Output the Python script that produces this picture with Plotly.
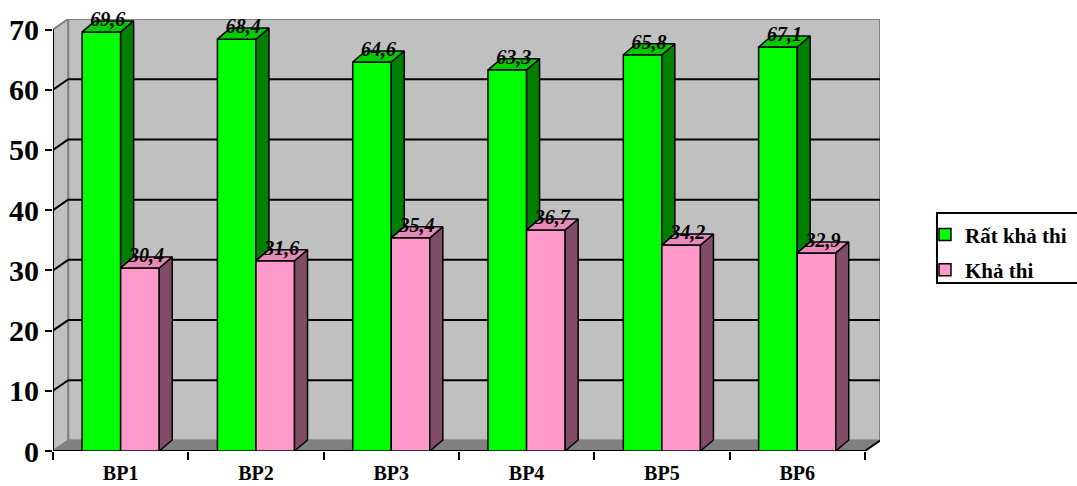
import plotly.graph_objects as go

# ---- data ----
categories = ["BP1", "BP2", "BP3", "BP4", "BP5", "BP6"]
rat_kha_thi = [69.6, 68.4, 64.6, 63.3, 65.8, 67.1]
kha_thi = [30.4, 31.6, 35.4, 36.7, 34.2, 32.9]
y_ticks = [0, 10, 20, 30, 40, 50, 60, 70]

# ---- styling ----
FONT = "Liberation Serif, Times New Roman, serif"
BAR_W = 0.285                     # width of each column (x units)
BAR_DX, BAR_DY = 0.096, 1.83      # depth of the columns (x units, y units)
WALL_DX, WALL_DY = 0.112, 1.744   # depth of the walls / floor
X_MIN, X_MAX = -0.5, len(categories) - 0.5
Y_TOP = y_ticks[-1]

GREEN, GREEN_SIDE, GREEN_TOP = "#00ff00", "#008000", "#00cc00"
PINK, PINK_SIDE, PINK_TOP = "#ff99cc", "#804c66", "#e68ab8"
WALL, FLOOR, EDGE = "#c0c0c0", "#808080", "#808080"

x_pos = list(range(len(categories)))


def fmt(v):
    return f"{v:.1f}".replace(".", ",")


def faces(values, offset, behind=None):
    """Side and top faces of a row of 3-D columns."""
    sx, sy, tx, ty = [], [], [], []
    for i, v in enumerate(values):
        xl = i + offset
        xr = xl + BAR_W
        base = 0 if behind is None else min(behind[i], v)
        sx += [xr, xr + BAR_DX, xr + BAR_DX, xr, xr, None]
        sy += [base, base + BAR_DY, v + BAR_DY, v, base, None]
        tx += [xl, xr, xr + BAR_DX, xl + BAR_DX, xl, None]
        ty += [v, v, v + BAR_DY, v + BAR_DY, v, None]
    return sx, sy, tx, ty


fig = go.Figure()

# front faces
fig.add_trace(go.Bar(
    x=x_pos, y=rat_kha_thi, width=BAR_W, offset=-BAR_W, name="Rất khả thi",
    marker=dict(color=GREEN, line=dict(color="black", width=1.5)),
    legendgroup="a", hoverinfo="skip"))
fig.add_trace(go.Bar(
    x=x_pos, y=kha_thi, width=BAR_W, offset=0, name="Khả thi",
    marker=dict(color=PINK, line=dict(color="black", width=1.5)),
    legendgroup="b", hoverinfo="skip"))

# side / top faces (green side hidden below the pink column)
gsx, gsy, gtx, gty = faces(rat_kha_thi, -BAR_W, behind=kha_thi)
psx, psy, ptx, pty = faces(kha_thi, 0)
for xs, ys, col in [(gsx, gsy, GREEN_SIDE), (gtx, gty, GREEN_TOP),
                    (psx, psy, PINK_SIDE), (ptx, pty, PINK_TOP)]:
    fig.add_trace(go.Scatter(
        x=xs, y=ys, mode="lines", fill="toself", fillcolor=col,
        line=dict(color="black", width=1.5), showlegend=False,
        cliponaxis=False, hoverinfo="skip"))

# value labels on the column tops
for vals, off in [(rat_kha_thi, -BAR_W), (kha_thi, 0)]:
    fig.add_trace(go.Scatter(
        x=[i + off + BAR_W / 2 + BAR_DX / 2 for i in x_pos],
        y=[v + BAR_DY for v in vals],
        text=[fmt(v) for v in vals], mode="text",
        textposition="middle center", cliponaxis=False,
        textfont=dict(family=FONT, size=20, color="black",
                      weight="bold", style="italic"),
        showlegend=False, hoverinfo="skip"))

# ---- walls, floor, gridlines ----
shapes = []


def path(pts):
    return "M " + " L ".join(f"{x},{y}" for x, y in pts) + " Z"


# back wall
shapes.append(dict(type="rect", xref="x", yref="y", layer="below",
                   x0=X_MIN + WALL_DX, x1=X_MAX + WALL_DX,
                   y0=WALL_DY, y1=Y_TOP + WALL_DY,
                   fillcolor=WALL, line=dict(color=EDGE, width=2)))
# left side wall
shapes.append(dict(type="path", xref="x", yref="y", layer="below",
                   path=path([(X_MIN, 0), (X_MIN + WALL_DX, WALL_DY),
                              (X_MIN + WALL_DX, Y_TOP + WALL_DY),
                              (X_MIN, Y_TOP)]),
                   fillcolor=WALL, line=dict(color=EDGE, width=2)))
# floor
shapes.append(dict(type="path", xref="x", yref="y", layer="below",
                   path=path([(X_MIN, 0), (X_MAX, 0),
                              (X_MAX + WALL_DX, WALL_DY),
                              (X_MIN + WALL_DX, WALL_DY)]),
                   fillcolor=FLOOR, line=dict(color=EDGE, width=1.5)))
# gridlines on back and side walls
for v in y_ticks[1:-1]:
    shapes.append(dict(type="line", xref="x", yref="y", layer="below",
                       x0=X_MIN + WALL_DX, x1=X_MAX + WALL_DX,
                       y0=v + WALL_DY, y1=v + WALL_DY,
                       line=dict(color="black", width=2)))
    shapes.append(dict(type="line", xref="x", yref="y", layer="below",
                       x0=X_MIN, x1=X_MIN + WALL_DX,
                       y0=v, y1=v + WALL_DY,
                       line=dict(color="black", width=2)))
# front axis lines
shapes.append(dict(type="line", xref="x", yref="y", layer="below",
                   x0=X_MIN, x1=X_MIN, y0=0, y1=Y_TOP,
                   line=dict(color="black", width=2)))
shapes.append(dict(type="line", xref="x", yref="y", layer="below",
                   x0=X_MIN, x1=X_MAX, y0=0, y1=0,
                   line=dict(color="black", width=2)))
shapes.append(dict(type="line", xref="x", yref="y", layer="below",
                   x0=X_MAX, x1=X_MAX + WALL_DX, y0=0, y1=WALL_DY,
                   line=dict(color="black", width=2)))
# legend frame
shapes.append(dict(type="rect", xref="paper", yref="paper",
                   x0=1.0689, x1=1.2394, y0=0.389, y1=0.551,
                   line=dict(color="black", width=2)))

fig.update_layout(
    width=1077, height=486,
    margin=dict(l=53, r=197, t=19, b=35, autoexpand=False),
    paper_bgcolor="white", plot_bgcolor="white",
    barmode="overlay",
    shapes=shapes,
    font=dict(family=FONT, color="black"),
    showlegend=True,
    legend=dict(x=1.0544, y=0.548, xanchor="left", yanchor="top",
                bgcolor="rgba(0,0,0,0)", borderwidth=0,
                tracegroupgap=5, traceorder="grouped",
                font=dict(family=FONT, size=21, color="black",
                          weight="bold")),
    xaxis=dict(range=[X_MIN, X_MAX + WALL_DX], tickvals=x_pos,
               ticktext=categories, ticks="", showgrid=False,
               zeroline=False, showline=False, ticklabelstandoff=8,
               automargin=False,
               tickfont=dict(family=FONT, size=20, weight="bold"),
               minor=dict(tickvals=[X_MIN + i for i in range(len(categories) + 1)],
                          ticks="outside", ticklen=8, tickwidth=2,
                          tickcolor="black", showgrid=False)),
    yaxis=dict(range=[0, Y_TOP + WALL_DY], tickvals=y_ticks,
               ticks="outside", ticklen=7, tickwidth=2, tickcolor="black",
               showgrid=False, zeroline=False, showline=False,
               automargin=False,
               tickfont=dict(family=FONT, size=30, weight="bold")),
)

fig.write_html("out.html")
